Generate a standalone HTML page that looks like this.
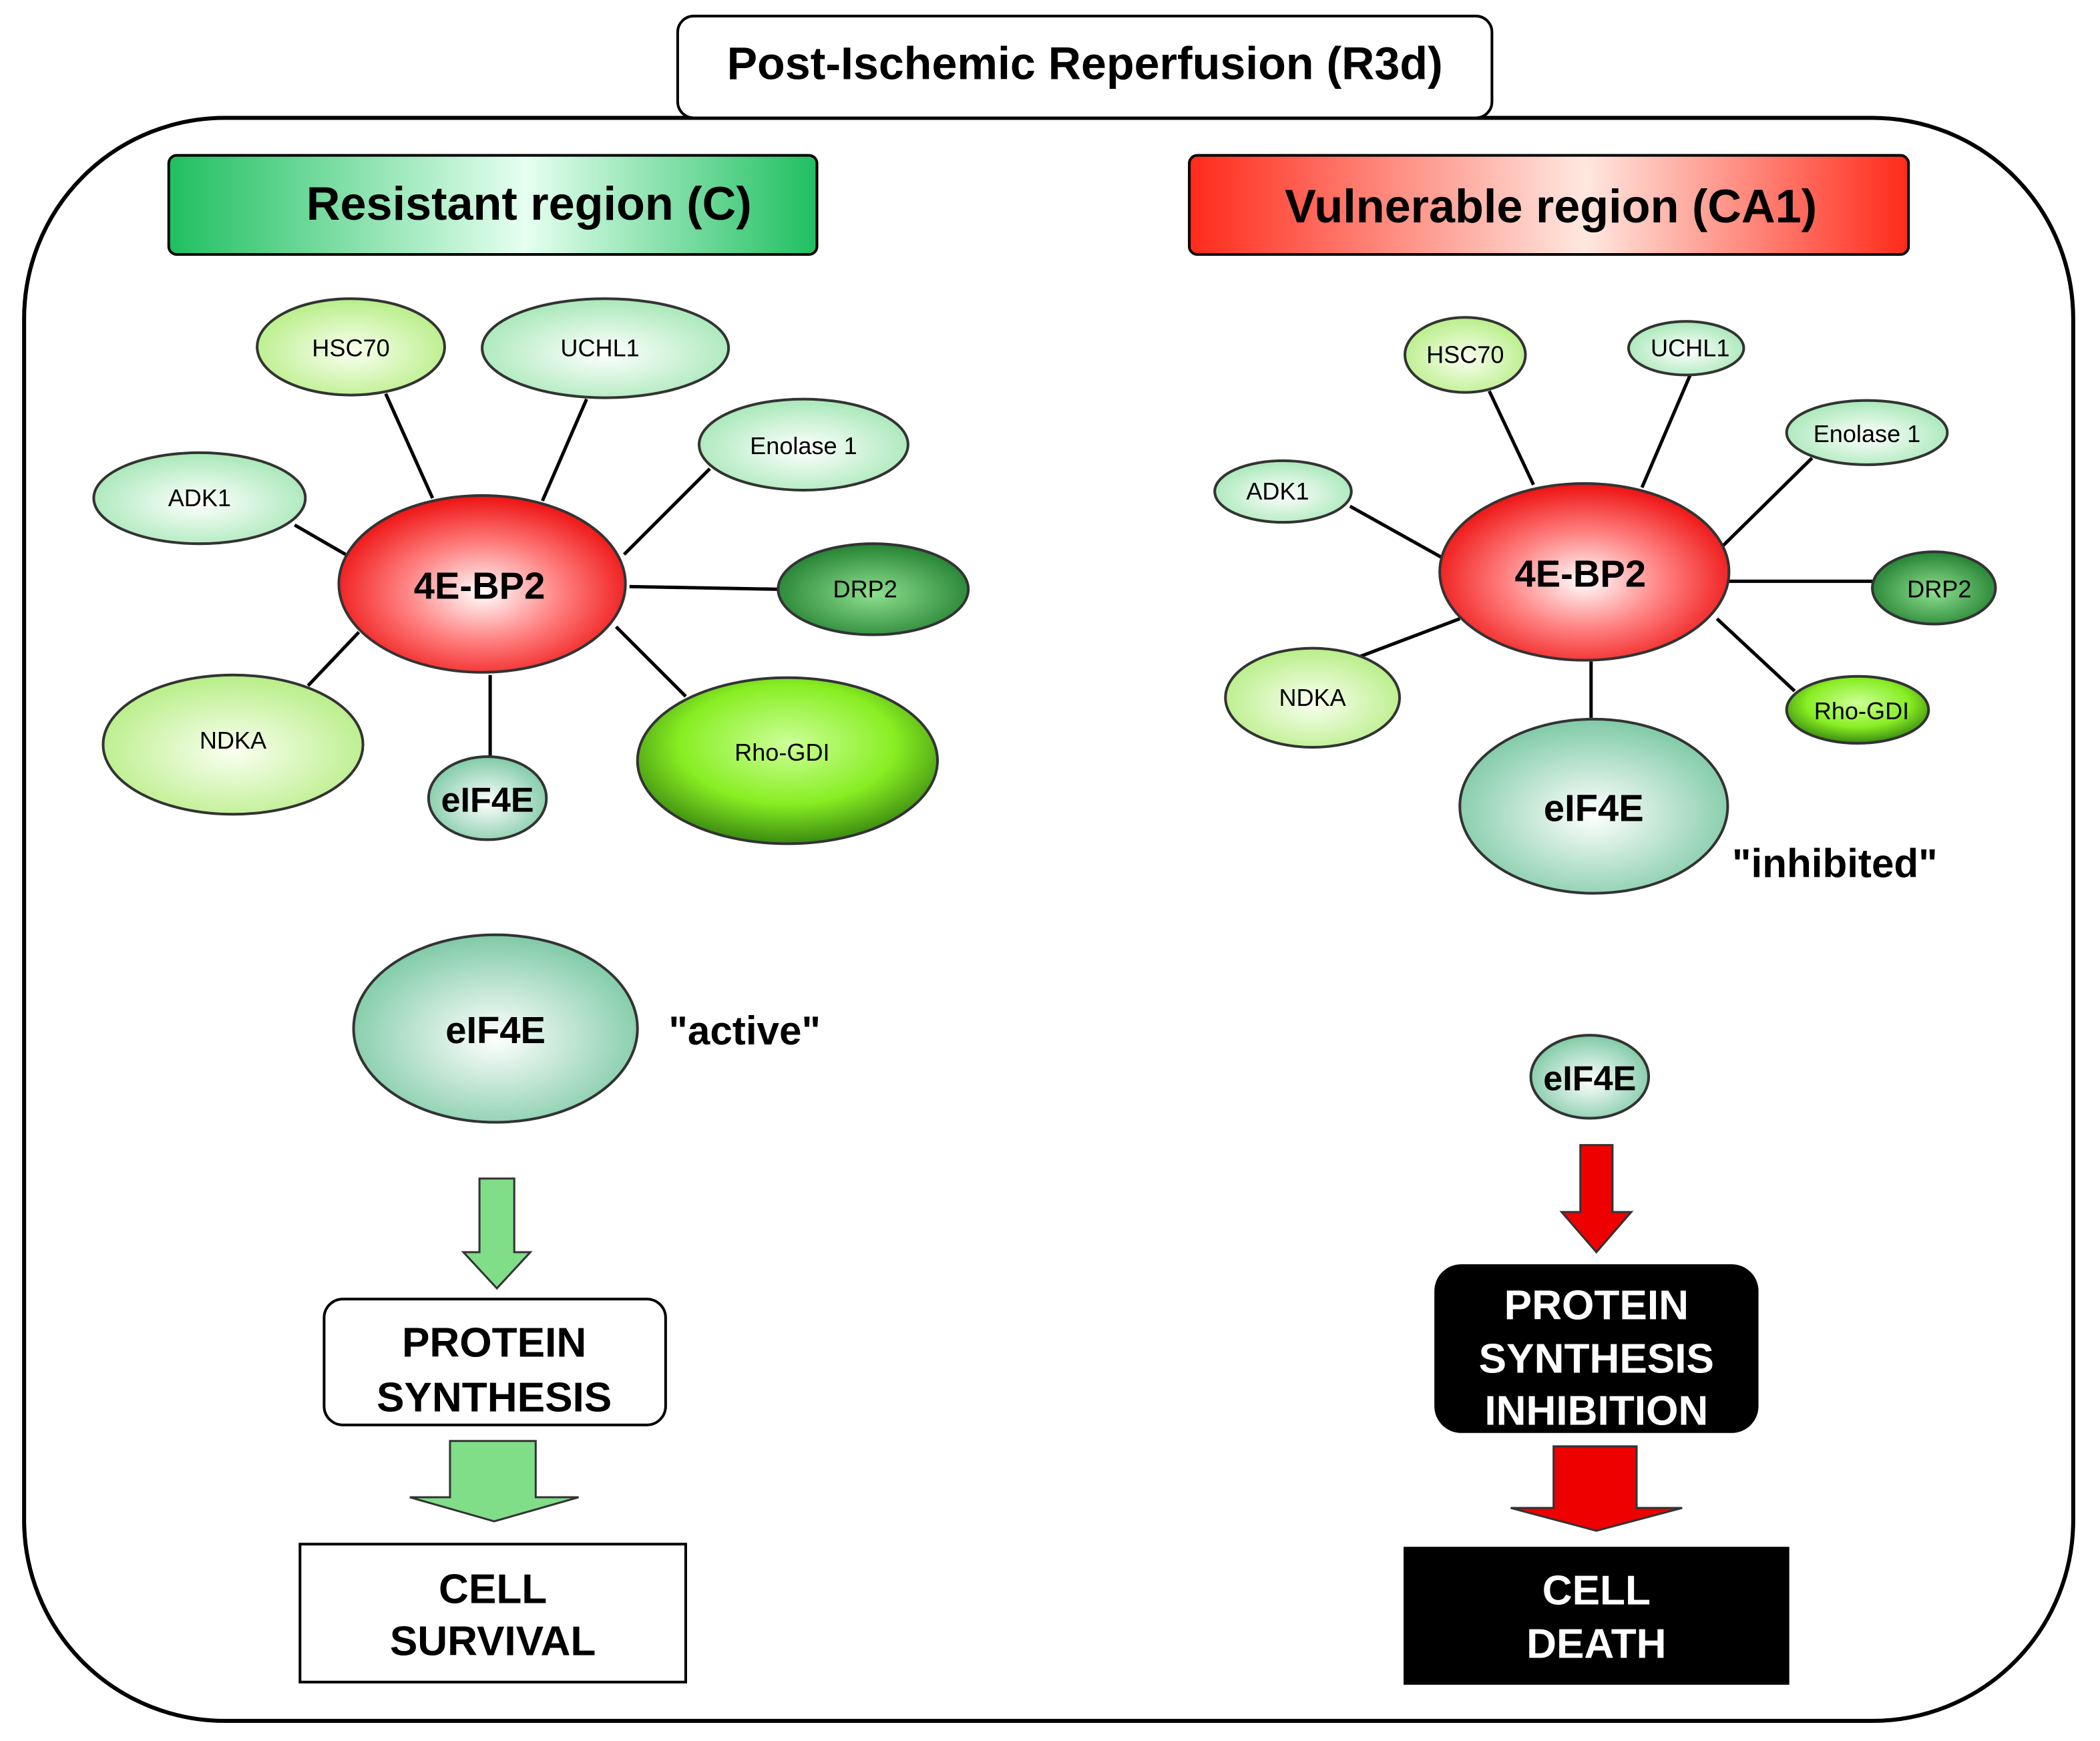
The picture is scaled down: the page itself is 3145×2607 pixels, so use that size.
<!DOCTYPE html>
<html><head><meta charset="utf-8"><style>html,body{margin:0;padding:0;background:#fff}svg{display:block}</style></head>
<body>
<svg width="3145" height="2607" viewBox="0 0 1568 1300" preserveAspectRatio="none" xmlns="http://www.w3.org/2000/svg" font-family="Liberation Sans, sans-serif">
<defs>
<radialGradient id="red" cx="50%" cy="55%" r="55%"><stop offset="0" stop-color="#fff"/><stop offset="0.5" stop-color="#ff8080"/><stop offset="1" stop-color="#ee1111"/></radialGradient>
<radialGradient id="teal" cx="50%" cy="55%" r="55%"><stop offset="0" stop-color="#fff"/><stop offset="1" stop-color="#7fcaa6"/></radialGradient>
<radialGradient id="lg" cx="50%" cy="55%" r="55%"><stop offset="0" stop-color="#fafff0"/><stop offset="1" stop-color="#b8ee88"/></radialGradient>
<radialGradient id="lg2" cx="50%" cy="55%" r="55%"><stop offset="0" stop-color="#fff"/><stop offset="1" stop-color="#a8e8b8"/></radialGradient>
<radialGradient id="dg" cx="50%" cy="55%" r="60%"><stop offset="0" stop-color="#8fe08f"/><stop offset="1" stop-color="#1a7a2a"/></radialGradient>
<radialGradient id="rho" cx="50%" cy="40%" r="60%"><stop offset="0" stop-color="#ccff99"/><stop offset="0.6" stop-color="#88ee22"/><stop offset="1" stop-color="#3a8a10"/></radialGradient>
<linearGradient id="gh" x1="0" x2="1"><stop offset="0" stop-color="#1fbf60"/><stop offset="0.55" stop-color="#e6fff0"/><stop offset="1" stop-color="#1fbf60"/></linearGradient>
<linearGradient id="rh" x1="0" x2="1"><stop offset="0" stop-color="#ff2a1a"/><stop offset="0.55" stop-color="#ffe8e0"/><stop offset="1" stop-color="#ff2a1a"/></linearGradient>
</defs>
<rect x="18" y="88" width="1530" height="1197" rx="150" fill="none" stroke="#000" stroke-width="3"/>
<rect x="506" y="12" width="608" height="76" rx="12" fill="#fff" stroke="#000" stroke-width="2"/>
<text x="810" y="59" font-size="34" font-weight="bold" text-anchor="middle">Post-Ischemic Reperfusion (R3d)</text>
<rect x="126" y="116" width="484" height="74" rx="6" fill="url(#gh)" stroke="#000" stroke-width="2"/>
<text x="395" y="164" font-size="35" font-weight="bold" text-anchor="middle">Resistant region (C)</text>
<rect x="888" y="116" width="537" height="74" rx="6" fill="url(#rh)" stroke="#000" stroke-width="2"/>
<text x="1158" y="166" font-size="35" font-weight="bold" text-anchor="middle">Vulnerable region (CA1)</text>
<g stroke="#000" stroke-width="2.5">
<line x1="288" y1="294" x2="323" y2="372"/><line x1="438" y1="298" x2="405" y2="374"/><line x1="530" y1="350" x2="466" y2="414"/><line x1="220" y1="392" x2="258" y2="414"/><line x1="470" y1="438" x2="582" y2="440"/><line x1="230" y1="512" x2="268" y2="472"/><line x1="366" y1="504" x2="366" y2="566"/><line x1="460" y1="468" x2="512" y2="520"/>
<line x1="1112" y1="292" x2="1145" y2="362"/><line x1="1262" y1="280" x2="1226" y2="364"/><line x1="1353" y1="342" x2="1286" y2="408"/><line x1="1008" y1="378" x2="1076" y2="416"/><line x1="1290" y1="434" x2="1398" y2="434"/><line x1="1016" y1="490" x2="1090" y2="462"/><line x1="1188" y1="494" x2="1188" y2="536"/><line x1="1282" y1="462" x2="1340" y2="516"/>
</g>
<g stroke="#333" stroke-width="2" font-size="18" text-anchor="middle">
<ellipse cx="262" cy="259" rx="70" ry="36" fill="url(#lg)"/><ellipse cx="452" cy="260" rx="92" ry="37" fill="url(#lg2)"/><ellipse cx="600" cy="332" rx="78" ry="34" fill="url(#lg2)"/><ellipse cx="149" cy="372" rx="79" ry="34" fill="url(#lg2)"/><ellipse cx="652" cy="440" rx="71" ry="34" fill="url(#dg)"/><ellipse cx="174" cy="556" rx="97" ry="52" fill="url(#lg)"/><ellipse cx="588" cy="568" rx="112" ry="62" fill="url(#rho)"/><ellipse cx="364" cy="596" rx="44" ry="31" fill="url(#teal)"/><ellipse cx="360" cy="436" rx="107" ry="66" fill="url(#red)"/>
<ellipse cx="1094" cy="265" rx="45" ry="28" fill="url(#lg)"/><ellipse cx="1259" cy="260" rx="43" ry="20" fill="url(#lg2)"/><ellipse cx="1394" cy="323" rx="60" ry="24" fill="url(#lg2)"/><ellipse cx="958" cy="367" rx="51" ry="23" fill="url(#lg2)"/><ellipse cx="1444" cy="439" rx="46" ry="27" fill="url(#dg)"/><ellipse cx="980" cy="521" rx="65" ry="37" fill="url(#lg)"/><ellipse cx="1387" cy="530" rx="53" ry="25" fill="url(#rho)"/><ellipse cx="1190" cy="602" rx="100" ry="65" fill="url(#teal)"/><ellipse cx="1183" cy="427" rx="108" ry="66" fill="url(#red)"/>
<ellipse cx="370" cy="768" rx="106" ry="70" fill="url(#teal)"/><ellipse cx="1187" cy="804" rx="44" ry="31" fill="url(#teal)"/>
</g>
<g font-size="18" text-anchor="middle" fill="#000">
<text x="262" y="266">HSC70</text><text x="448" y="266">UCHL1</text><text x="600" y="339">Enolase 1</text><text x="149" y="378">ADK1</text><text x="646" y="446">DRP2</text><text x="174" y="559">NDKA</text><text x="584" y="568">Rho-GDI</text>
<text x="1094" y="271">HSC70</text><text x="1262" y="266">UCHL1</text><text x="1394" y="330">Enolase 1</text><text x="954" y="373">ADK1</text><text x="1448" y="446">DRP2</text><text x="980" y="527">NDKA</text><text x="1390" y="537">Rho-GDI</text>
</g>
<g font-size="28" font-weight="bold" text-anchor="middle">
<text x="358" y="447">4E-BP2</text><text x="1180" y="438">4E-BP2</text>
<text x="364" y="606" font-size="26">eIF4E</text><text x="1190" y="613">eIF4E</text><text x="370" y="779">eIF4E</text><text x="1187" y="814" font-size="26">eIF4E</text>
<text x="556" y="780" font-size="30">"active"</text><text x="1370" y="655" font-size="30">"inhibited"</text>
</g>
<path d="M358 880H384V935H396L371 962L346 935H358Z" fill="#80dd88" stroke="#333" stroke-width="1.5"/>
<rect x="242" y="970" width="255" height="94" rx="14" fill="#fff" stroke="#000" stroke-width="2"/>
<text x="369" y="1013" font-size="31" font-weight="bold" text-anchor="middle">PROTEIN</text><text x="369" y="1054" font-size="31" font-weight="bold" text-anchor="middle">SYNTHESIS</text>
<path d="M336 1076H400V1118H432L369 1136L306 1118H336Z" fill="#80dd88" stroke="#333" stroke-width="1.5"/>
<rect x="224" y="1153" width="288" height="103" fill="#fff" stroke="#000" stroke-width="2"/>
<text x="368" y="1197" font-size="31" font-weight="bold" text-anchor="middle">CELL</text><text x="368" y="1236" font-size="31" font-weight="bold" text-anchor="middle">SURVIVAL</text>
<path d="M1180 855H1204V905H1218L1192 935L1166 905H1180Z" fill="#ee0000" stroke="#333" stroke-width="1.5"/>
<rect x="1071" y="944" width="242" height="126" rx="20" fill="#000"/>
<g fill="#fff" font-size="31" font-weight="bold" text-anchor="middle"><text x="1192" y="985">PROTEIN</text><text x="1192" y="1025">SYNTHESIS</text><text x="1192" y="1064">INHIBITION</text></g>
<path d="M1160 1080H1222V1126H1256L1192 1143L1128 1126H1160Z" fill="#ee0000" stroke="#333" stroke-width="1.5"/>
<rect x="1048" y="1155" width="288" height="103" fill="#000"/>
<g fill="#fff" font-size="31" font-weight="bold" text-anchor="middle"><text x="1192" y="1198">CELL</text><text x="1192" y="1238">DEATH</text></g>
</svg>
</body></html>
